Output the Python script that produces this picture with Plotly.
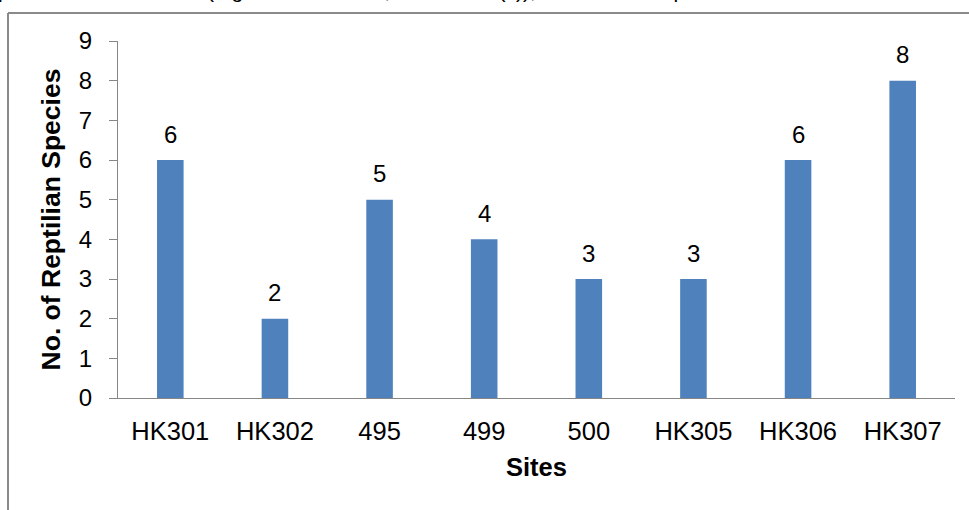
import plotly.graph_objects as go

# Reptile species counts per survey site
sites = ["HK301", "HK302", "495", "499", "500", "HK305", "HK306", "HK307"]
species_counts = [6, 2, 5, 4, 3, 3, 6, 8]
y_ticks = [0, 1, 2, 3, 4, 5, 6, 7, 8, 9]

y_title = "No. of Reptilian Species"
x_title = "Sites"
body_text = "presented in the chart (Figure 4.3 and 4.4, Table 4.12 (c)), and the total species"

FONT = "Liberation Sans, Arial, sans-serif"
BAR_BLUE = "#4F81BD"
AXIS_GREY = "#868686"
FRAME_GREY = "#8A8A8A"

W, H = 969, 510
M_L, M_R, M_T, M_B = 118, 14, 41, 112
PW, PH = W - M_L - M_R, H - M_T - M_B


def px_x(x):
    return (x - M_L) / PW


def px_y(y):
    return 1 - (y - M_T) / PH


fig = go.Figure()
fig.add_trace(go.Bar(
    x=sites,
    y=species_counts,
    marker=dict(color=BAR_BLUE, line=dict(width=0)),
    hoverinfo="x+y",
))

# value labels above each bar (category index positions, so that
# numeric-looking site codes are not read as coordinates)
for i, v in enumerate(species_counts):
    fig.add_annotation(
        x=i, y=v, xref="x", yref="y",
        text=str(v), showarrow=False,
        yanchor="middle", yshift=26,
        font=dict(family=FONT, size=24, color="#000000"),
    )

# outer frame of the chart object (top and left edges)
fig.add_shape(type="line", xref="paper", yref="paper",
              x0=px_x(8), x1=px_x(W + 10), y0=px_y(13), y1=px_y(13),
              line=dict(color=FRAME_GREY, width=2))
fig.add_shape(type="line", xref="paper", yref="paper",
              x0=px_x(8), x1=px_x(8), y0=px_y(13), y1=px_y(H + 10),
              line=dict(color=FRAME_GREY, width=2))

# line of report text running above the chart
fig.add_annotation(
    x=px_x(-4), y=px_y(-10), xref="paper", yref="paper",
    xanchor="left", yanchor="middle", showarrow=False,
    text=body_text,
    font=dict(family=FONT, size=21, color="#000000"),
)

fig.update_layout(
    width=W, height=H,
    margin=dict(l=M_L, r=M_R, t=M_T, b=M_B),
    paper_bgcolor="white", plot_bgcolor="white",
    bargap=0.746,
    showlegend=False,
    font=dict(family=FONT, size=24, color="#000000"),
)
fig.update_xaxes(
    type="category",
    showline=True, linecolor=AXIS_GREY, linewidth=1,
    ticks="", showgrid=False, zeroline=False,
    tickfont=dict(family=FONT, size=25.5, color="#000000"),
    ticklabelstandoff=10,
    title=dict(text=x_title, standoff=14,
               font=dict(family=FONT, size=25.5, color="#000000", weight="bold")),
)
fig.update_yaxes(
    range=[0, 9], tickvals=y_ticks,
    showline=True, linecolor=AXIS_GREY, linewidth=1,
    ticks="outside", ticklen=8, tickcolor=AXIS_GREY, tickwidth=1,
    showgrid=False, zeroline=False,
    tickfont=dict(family=FONT, size=24, color="#000000"),
    ticklabelstandoff=12,
    title=dict(text=y_title, standoff=10,
               font=dict(family=FONT, size=26.5, color="#000000", weight="bold")),
)

fig.write_html("out.html")
